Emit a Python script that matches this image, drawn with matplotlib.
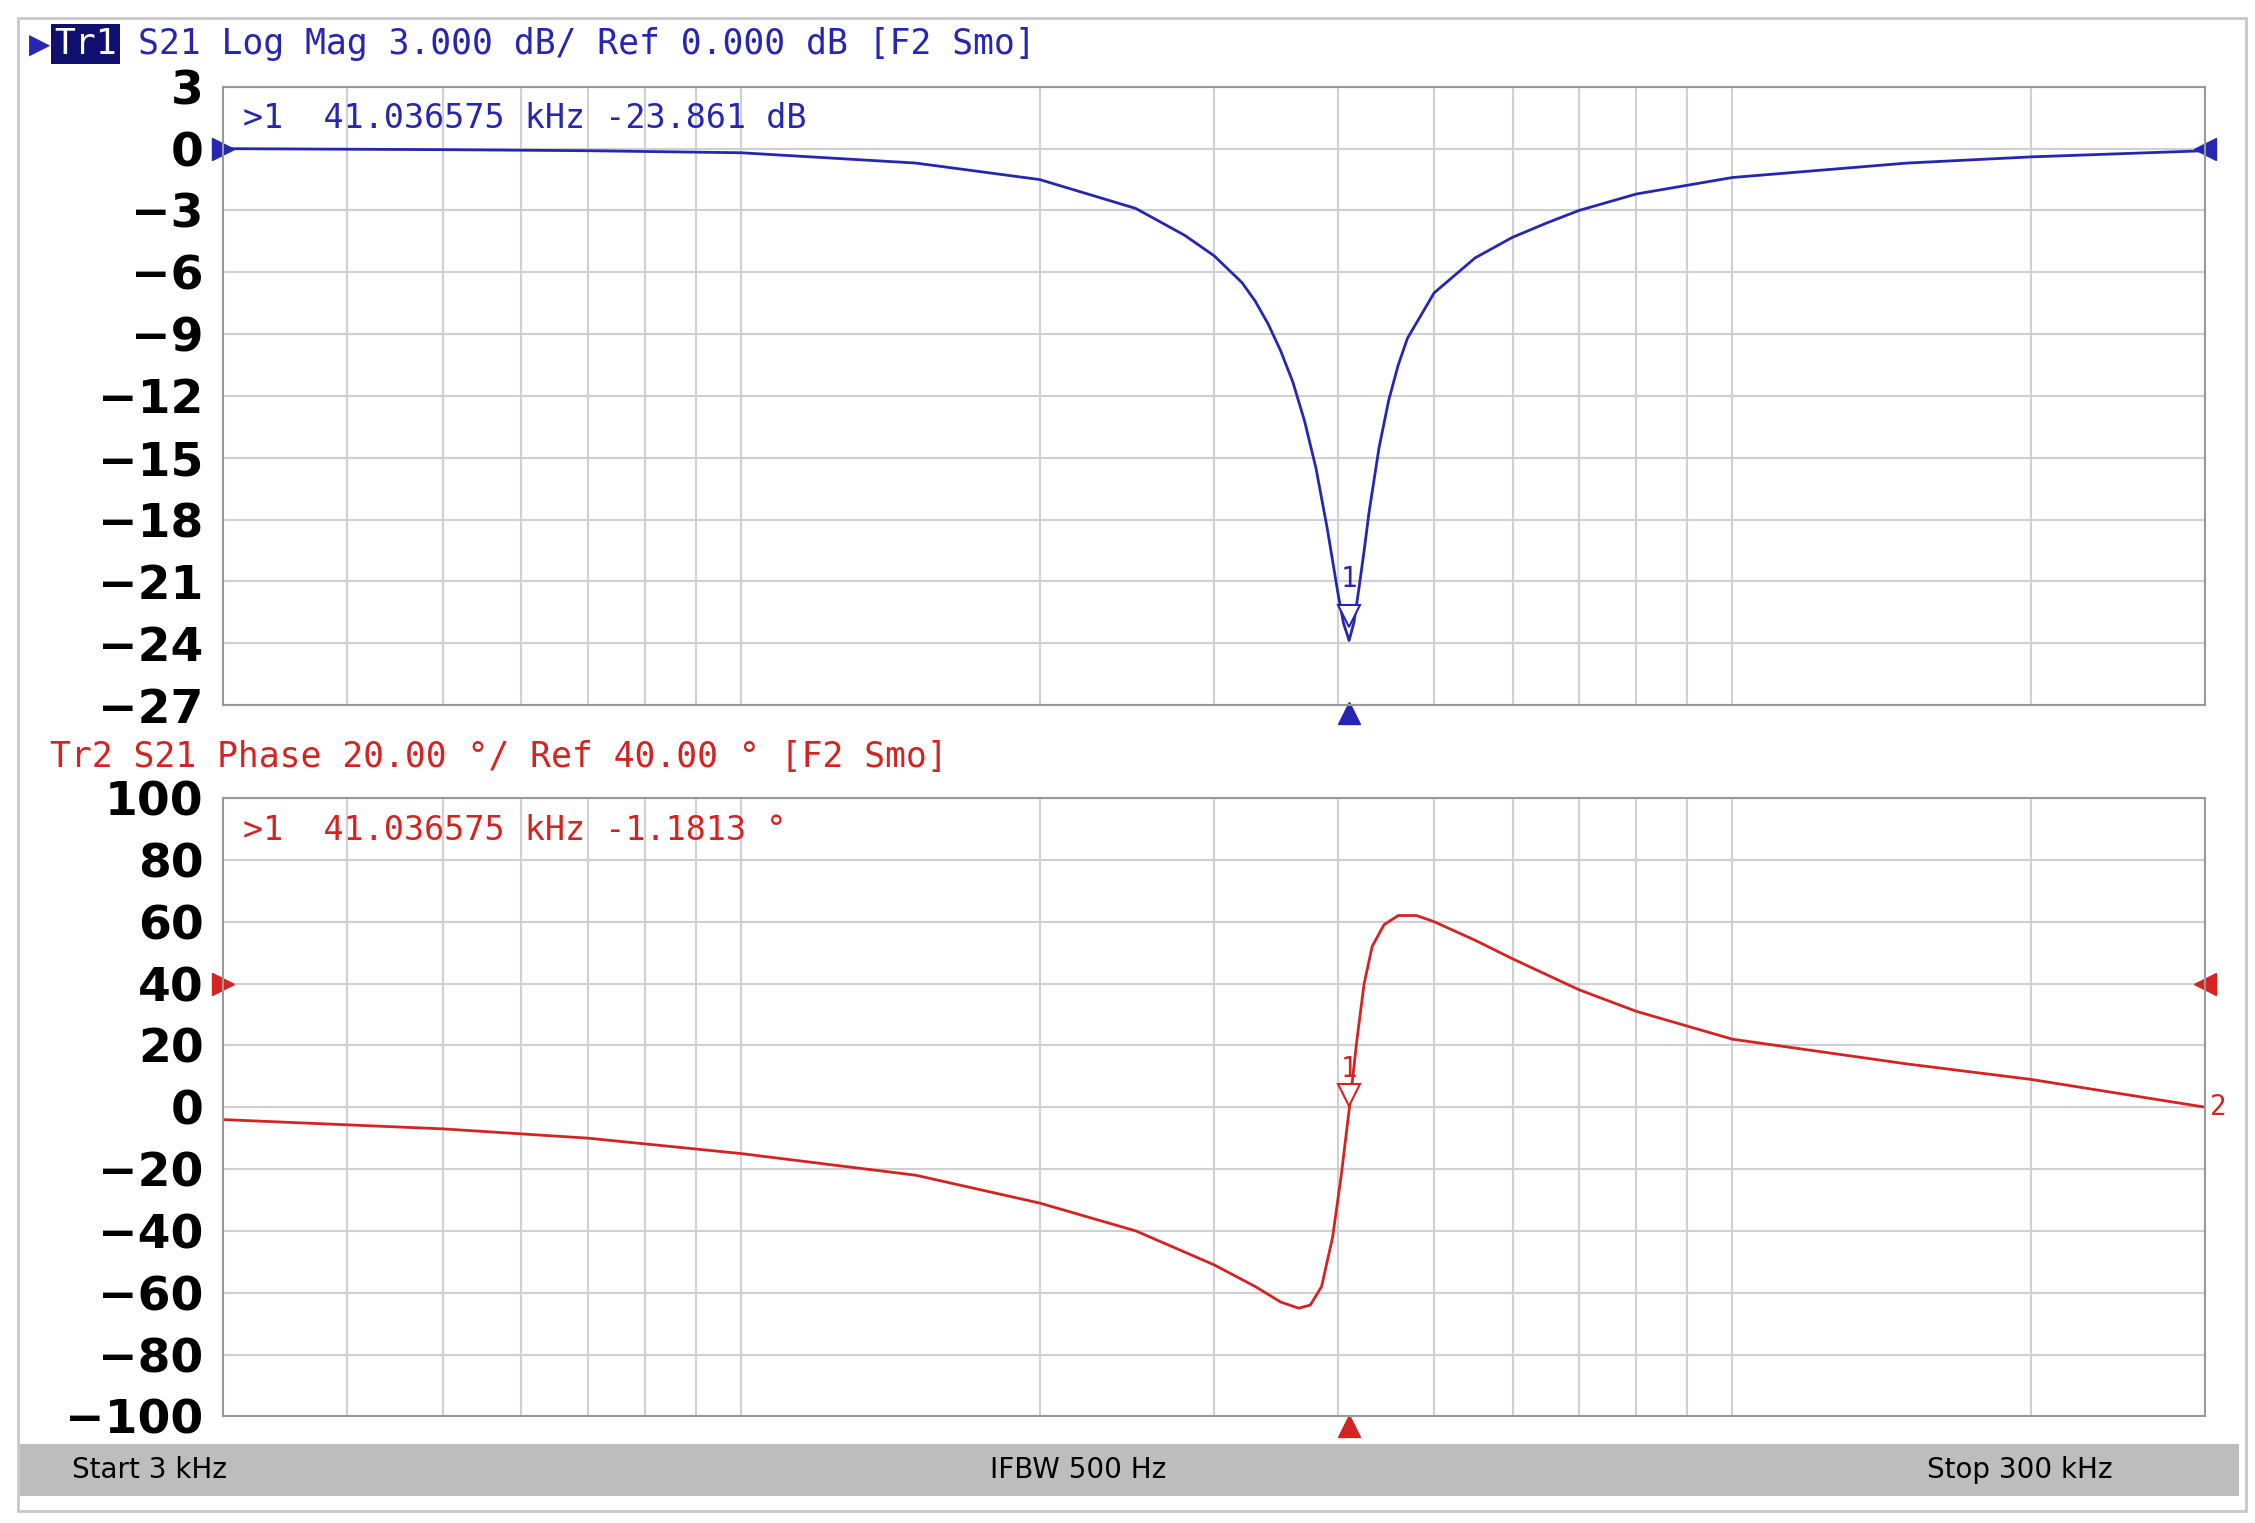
import matplotlib
matplotlib.use("Agg")
import matplotlib.pyplot as plt
from matplotlib.patches import Rectangle

# data (kHz, dB / deg)
f_mag = [3, 5, 7, 10, 15, 20, 25, 28, 30, 32, 33, 34, 35, 36, 37, 38, 39, 39.5, 40, 40.5, 41.04, 41.5, 42, 42.5, 43, 44, 45, 46, 47, 50, 55, 60, 65, 70, 80, 100, 150, 200, 300]
mag = [0, -0.05, -0.1, -0.2, -0.7, -1.5, -2.9, -4.2, -5.2, -6.5, -7.4, -8.5, -9.8, -11.3, -13.2, -15.5, -18.4, -20.0, -21.6, -23.0, -23.86, -23.0, -21.3, -19.5, -17.6, -14.5, -12.2, -10.5, -9.2, -7.0, -5.3, -4.3, -3.6, -3.0, -2.2, -1.4, -0.7, -0.4, -0.1]
f_ph = [3, 5, 7, 10, 15, 20, 25, 30, 33, 35, 36.5, 37.5, 38.5, 39.5, 40.3, 41.04, 41.8, 42.5, 43.3, 44.5, 46, 48, 50, 55, 60, 70, 80, 100, 150, 200, 300]
phase = [-4, -7, -10, -15, -22, -31, -40, -51, -58, -63, -65, -64, -58, -42, -22, -1, 22, 40, 52, 59, 62, 62, 60, 54, 48, 38, 31, 22, 14, 9, 0]
mag_ticks = [3, 0, -3, -6, -9, -12, -15, -18, -21, -24, -27]
ph_ticks = [100, 80, 60, 40, 20, 0, -20, -40, -60, -80, -100]
grid_f = [4, 5, 6, 7, 8, 9, 10, 20, 30, 40, 50, 60, 70, 80, 90, 100, 200]
mk_f = 41.036575
mk_mag = -23.861
mk_ph = -1.1813

blue = '#2626b0'
red = '#d42323'
W, H = 2255, 1523
fig = plt.figure(figsize=(W/100, H/100), dpi=100)
fig.patches.append(Rectangle((0.008, 0.008), 0.988, 0.98, transform=fig.transFigure,
                             fill=False, edgecolor='#c8c8c8', lw=2))
fig.patches.append(Rectangle((0.009, 0.018), 0.984, 0.034, transform=fig.transFigure,
                             facecolor='#bdbdbd', edgecolor='none'))
mono = 'DejaVu Sans Mono'

def setup(ax, ticks):
    ax.set_xscale('log')
    ax.set_xlim(3, 300)
    ax.set_ylim(ticks[-1], ticks[0])
    ax.set_yticks(ticks)
    ax.set_yticklabels([str(t).replace('-', '\u2212') for t in ticks],
                       fontsize=34, fontweight='bold')
    ax.set_xticks(grid_f)
    ax.set_xticks([], minor=True)
    ax.set_xticklabels([])
    ax.tick_params(length=0, pad=14)
    ax.grid(True, color='#d0d0d0', lw=1.5)
    for s in ax.spines.values():
        s.set_color('#999999'); s.set_linewidth(1.5)

ax1 = fig.add_axes([0.0989, 0.537, 0.8791, 0.406])
setup(ax1, mag_ticks)
ax1.plot(f_mag, mag, color=blue, lw=2)
ax1.plot([mk_f], [mk_mag + 1.2], marker='v', ms=16, mfc='white', mec=blue, mew=1.5, clip_on=False)
ax1.text(mk_f, mk_mag + 2.3, '1', color=blue, fontsize=20, ha='center', va='bottom', family=mono)
ax1.plot([3], [0], marker='>', ms=16, color=blue, clip_on=False)
ax1.plot([300], [0], marker='<', ms=16, color=blue, clip_on=False)
ax1.plot([mk_f], [-27.4], marker='^', ms=16, color=blue, clip_on=False)
ax1.text(0.01, 0.975, '>1  41.036575 kHz -23.861 dB', transform=ax1.transAxes,
         color=blue, fontsize=24, family=mono, va='top')

ax2 = fig.add_axes([0.0989, 0.070, 0.8791, 0.406])
setup(ax2, ph_ticks)
ax2.plot(f_ph, phase, color=red, lw=2)
ax2.plot([mk_f], [mk_ph + 5], marker='v', ms=16, mfc='white', mec=red, mew=1.5, clip_on=False)
ax2.text(mk_f, mk_ph + 9, '1', color=red, fontsize=20, ha='center', va='bottom', family=mono)
ax2.plot([3], [40], marker='>', ms=16, color=red, clip_on=False)
ax2.plot([300], [40], marker='<', ms=16, color=red, clip_on=False)
ax2.plot([mk_f], [-103], marker='^', ms=16, color=red, clip_on=False)
ax2.text(303, 0, '2', color=red, fontsize=20, family=mono, va='center', ha='left')
ax2.text(0.01, 0.975, '>1  41.036575 kHz -1.1813 \u00b0', transform=ax2.transAxes,
         color=red, fontsize=24, family=mono, va='top')

fig.text(0.013, 0.971, '\u25b6', color=blue, fontsize=20, va='center')
fig.text(0.024, 0.971, 'Tr1', color='white', fontsize=25, family=mono, va='center',
         bbox=dict(facecolor='#10106e', edgecolor='none', pad=2))
fig.text(0.061, 0.971, 'S21 Log Mag 3.000 dB/ Ref 0.000 dB [F2 Smo]', color=blue,
         fontsize=25, family=mono, va='center')
fig.text(0.022, 0.503, 'Tr2 S21 Phase 20.00 \u00b0/ Ref 40.00 \u00b0 [F2 Smo]', color=red,
         fontsize=25, family=mono, va='center')
fig.text(0.032, 0.035, 'Start 3 kHz', fontsize=20, va='center')
fig.text(0.478, 0.035, 'IFBW 500 Hz', fontsize=20, va='center', ha='center')
fig.text(0.937, 0.035, 'Stop 300 kHz', fontsize=20, va='center', ha='right')
fig.savefig('out.png', dpi=100)
